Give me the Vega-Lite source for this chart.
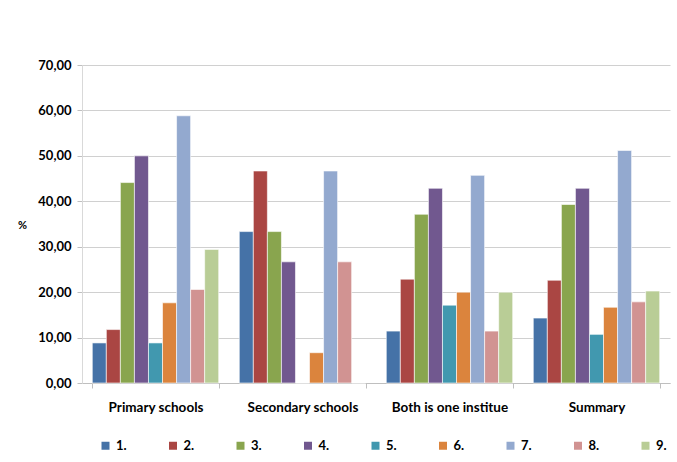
{
  "$schema": "https://vega.github.io/schema/vega-lite/v6.json",
  "width": 588,
  "height": 318,
  "autosize": {"type": "none"},
  "padding": {"left": 82, "top": 65, "right": 7, "bottom": 79},
  "background": "white",
  "config": {
    "font": "Lato",
    "view": {"stroke": null},
    "axis": {"labelFont": "Lato", "titleFont": "Lato", "labelFontWeight": "bold", "labelColor": "#000000"}
  },
  "data": {
    "values": [
      {"group": "Primary schools", "cat": "1.", "value": 8.82},
      {"group": "Primary schools", "cat": "2.", "value": 11.76},
      {"group": "Primary schools", "cat": "3.", "value": 44.12},
      {"group": "Primary schools", "cat": "4.", "value": 50.0},
      {"group": "Primary schools", "cat": "5.", "value": 8.82},
      {"group": "Primary schools", "cat": "6.", "value": 17.65},
      {"group": "Primary schools", "cat": "7.", "value": 58.82},
      {"group": "Primary schools", "cat": "8.", "value": 20.59},
      {"group": "Primary schools", "cat": "9.", "value": 29.41},
      {"group": "Secondary schools", "cat": "1.", "value": 33.33},
      {"group": "Secondary schools", "cat": "2.", "value": 46.67},
      {"group": "Secondary schools", "cat": "3.", "value": 33.33},
      {"group": "Secondary schools", "cat": "4.", "value": 26.67},
      {"group": "Secondary schools", "cat": "5.", "value": 0},
      {"group": "Secondary schools", "cat": "6.", "value": 6.67},
      {"group": "Secondary schools", "cat": "7.", "value": 46.67},
      {"group": "Secondary schools", "cat": "8.", "value": 26.67},
      {"group": "Secondary schools", "cat": "9.", "value": 0},
      {"group": "Both is one institue", "cat": "1.", "value": 11.43},
      {"group": "Both is one institue", "cat": "2.", "value": 22.86},
      {"group": "Both is one institue", "cat": "3.", "value": 37.14},
      {"group": "Both is one institue", "cat": "4.", "value": 42.86},
      {"group": "Both is one institue", "cat": "5.", "value": 17.14},
      {"group": "Both is one institue", "cat": "6.", "value": 20.0},
      {"group": "Both is one institue", "cat": "7.", "value": 45.71},
      {"group": "Both is one institue", "cat": "8.", "value": 11.43},
      {"group": "Both is one institue", "cat": "9.", "value": 20.0},
      {"group": "Summary", "cat": "1.", "value": 14.29},
      {"group": "Summary", "cat": "2.", "value": 22.62},
      {"group": "Summary", "cat": "3.", "value": 39.29},
      {"group": "Summary", "cat": "4.", "value": 42.86},
      {"group": "Summary", "cat": "5.", "value": 10.71},
      {"group": "Summary", "cat": "6.", "value": 16.67},
      {"group": "Summary", "cat": "7.", "value": 51.19},
      {"group": "Summary", "cat": "8.", "value": 17.86},
      {"group": "Summary", "cat": "9.", "value": 20.24}
    ]
  },
  "mark": {"type": "bar", "stroke": "white", "strokeWidth": 0.6},
  "encoding": {
    "x": {
      "field": "group",
      "type": "nominal",
      "sort": null,
      "scale": {"paddingInner": 0.14, "paddingOuter": 0.07},
      "axis": {
        "title": null,
        "labelAngle": 0,
        "labelFontSize": 13.5,
        "labelPadding": 12,
        "tickBand": "extent",
        "tickSize": 5,
        "tickColor": "#bfbfbf",
        "domainColor": "#bfbfbf",
        "grid": false
      }
    },
    "xOffset": {"field": "cat", "type": "nominal", "sort": null, "scale": {"paddingInner": 0, "paddingOuter": 0}},
    "y": {
      "field": "value",
      "type": "quantitative",
      "scale": {"domain": [0, 70]},
      "axis": {
        "title": "%",
        "titleAngle": 0,
        "titleFontSize": 11,
        "titleFontWeight": "bold",
        "titleX": -60,
        "titleY": 165,
        "values": [0, 10, 20, 30, 40, 50, 60, 70],
        "labelOverlap": false,
        "labelExpr": "replace(format(datum.value, '.2f'), '.', ',')",
        "labelFontSize": 13,
        "labelPadding": 6,
        "tickSize": 5,
        "tickColor": "#bfbfbf",
        "domainColor": "#d9d9d9",
        "grid": true,
        "gridColor": "#d0d0d0",
        "gridWidth": 1
      }
    },
    "color": {
      "field": "cat",
      "type": "nominal",
      "sort": null,
      "scale": {
        "domain": ["1.", "2.", "3.", "4.", "5.", "6.", "7.", "8.", "9."],
        "range": ["#4572A7", "#AA4643", "#89A54E", "#71588F", "#4198AF", "#DB843D", "#93A9CF", "#D19392", "#B9CD96"]
      },
      "legend": {
        "title": null,
        "orient": "none",
        "legendX": 17,
        "legendY": 374,
        "direction": "horizontal",
        "columns": 9,
        "symbolType": "square",
        "symbolSize": 64,
        "symbolStrokeWidth": 0,
        "labelFontSize": 13,
        "labelFontWeight": "bold",
        "labelColor": "#000000",
        "labelFont": "Lato",
        "columnPadding": 39.5
      }
    }
  }
}
